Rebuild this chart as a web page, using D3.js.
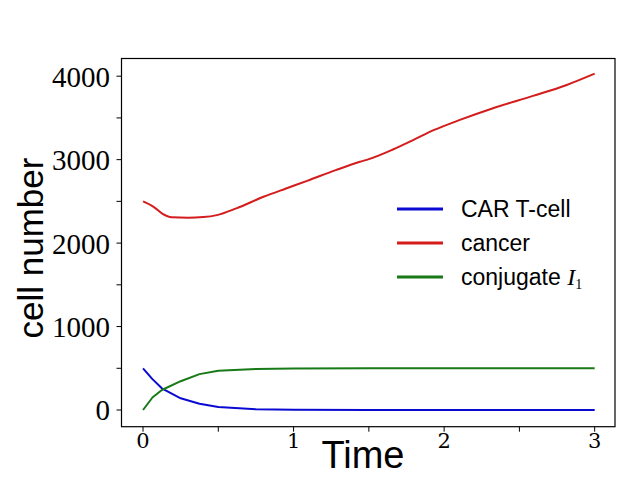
<!DOCTYPE html>
<html>
<head>
<meta charset="utf-8">
<script src="https://cdn.jsdelivr.net/npm/d3@7"></script>
<style>
  html, body { margin: 0; padding: 0; background: #ffffff; }
  svg { display: block; }
</style>
</head>
<body>
<svg id="chart" width="640" height="480"></svg>
<script>
// ---- data ----
const tEarly = [0, 0.0625, 0.125, 0.25, 0.375, 0.5, 0.75, 1, 1.5, 2, 2.5, 3];
const carT    = [500, 370, 260, 140, 75, 35, 8, 2, 0, 0, 0, 0];
const conjI1  = [0, 150, 240, 345, 430, 470, 492, 498, 500, 500, 500, 500];

const tCancer = [0, 0.07, 0.13, 0.19, 0.3, 0.4, 0.49, 0.62, 0.8, 0.95, 1.09, 1.28, 1.44, 1.5, 1.66, 1.8, 1.93, 2.1, 2.32, 2.59, 2.81, 3];
const cancer  = [2500, 2435, 2350, 2310, 2305, 2312, 2335, 2416, 2555, 2655, 2746, 2874, 2974, 3006, 3122, 3240, 3353, 3473, 3613, 3764, 3892, 4030];

const xMajor = [0, 1, 2, 3];
const xMinor = [0.5, 1.5, 2.5];
const yMajor = [0, 1000, 2000, 3000, 4000];
const yMinor = [500, 1500, 2500, 3500];

const seriesNames = ["CAR T-cell", "cancer", "conjugate"];
const seriesColors = ["#0a0ad2", "#d41c1c", "#177a17"];

// ---- layout ----
const svg = d3.select("#chart");
const L = 121.5, R = 615, T = 58.5, B = 426.7;

const x = d3.scaleLinear().domain([-0.143, 3.135]).range([L, R]);
const y = d3.scaleLinear().domain([-200, 4212]).range([B, T]);

// axes box
svg.append("rect").attr("x", L).attr("y", T).attr("width", R - L).attr("height", B - T)
  .attr("fill", "none").attr("stroke", "#000").attr("stroke-width", 1.2);

// ticks
const tickLen = 5;
const gx = svg.append("g");
[...xMajor, ...xMinor].forEach(v => {
  gx.append("line").attr("x1", x(v)).attr("x2", x(v)).attr("y1", B).attr("y2", B + tickLen)
    .attr("stroke", "#000").attr("stroke-width", 1);
});
xMajor.forEach(v => {
  gx.append("text").attr("x", x(v)).attr("y", 448).attr("text-anchor", "middle")
    .attr("font-family", "'DejaVu Serif', 'Liberation Serif', serif").attr("font-size", 21)
    .attr("fill", "#000").text(v);
});

const gy = svg.append("g");
[...yMajor, ...yMinor].forEach(v => {
  gy.append("line").attr("x1", L - tickLen).attr("x2", L).attr("y1", y(v)).attr("y2", y(v))
    .attr("stroke", "#000").attr("stroke-width", 1);
});
yMajor.forEach(v => {
  gy.append("text").attr("x", 110).attr("y", y(v)).attr("dy", "0.36em").attr("text-anchor", "end")
    .attr("font-family", "'Liberation Serif', 'DejaVu Serif', serif").attr("font-size", 29)
    .attr("fill", "#000").text(v);
});

// axis labels
svg.append("text").attr("transform", "translate(43,248) rotate(-90)")
  .attr("text-anchor", "middle").attr("font-family", "'Liberation Sans', Arial, sans-serif")
  .attr("font-size", 35).attr("fill", "#000").text("cell number");
svg.append("text").attr("x", 363).attr("y", 468)
  .attr("text-anchor", "middle").attr("font-family", "'Liberation Sans', Arial, sans-serif")
  .attr("font-size", 38).attr("fill", "#000").text("Time");

// lines
const line = d3.line().x(d => x(d[0])).y(d => y(d[1]));
const smooth = d3.line().x(d => x(d[0])).y(d => y(d[1])).curve(d3.curveMonotoneX);
const seriesData = [
  d3.zip(tEarly, carT),
  d3.zip(tCancer, cancer),
  d3.zip(tEarly, conjI1)
];
seriesData.forEach((d, i) => {
  svg.append("path").datum(d).attr("d", i === 1 ? smooth : line).attr("fill", "none")
    .attr("stroke", seriesColors[i]).attr("stroke-width", 2).attr("stroke-linejoin", "round");
});

// legend
const legY = [209, 243, 277];
seriesNames.forEach((name, i) => {
  svg.append("line").attr("x1", 397).attr("x2", 443).attr("y1", legY[i]).attr("y2", legY[i])
    .attr("stroke", seriesColors[i]).attr("stroke-width", 3);
  const t = svg.append("text").attr("x", 461).attr("y", legY[i] + 8)
    .attr("font-family", "'Liberation Sans', Arial, sans-serif").attr("font-size", 23).attr("fill", "#000");
  t.append("tspan").text(name);
  if (i === 2) {
    t.append("tspan").text(" ");
    t.append("tspan").attr("font-family", "'Liberation Serif', serif").attr("font-style", "italic")
      .attr("font-size", 24).text("I");
    t.append("tspan").attr("font-family", "'Liberation Serif', serif").attr("font-size", 14)
      .attr("dy", 4).text("1");
  }
});
</script>
</body>
</html>
